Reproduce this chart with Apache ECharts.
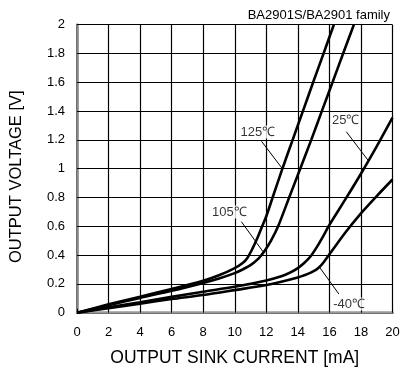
<!DOCTYPE html>
<html>
<head>
<meta charset="utf-8">
<style>
  html, body { margin: 0; padding: 0; background: #fff; }
  #chart { width: 416px; height: 372px; }
</style>
<script src="https://cdn.jsdelivr.net/npm/echarts@6/dist/echarts.min.js"></script>
</head>
<body>
<div id="chart"></div>
<script>
// Output voltage vs. output sink current, one curve per ambient temperature
const seriesNames = ['125℃', '105℃', '25℃', '-40℃'];

const current125 = [0, 2, 4, 6, 8, 9, 10, 10.5, 10.8, 11.1, 11.4, 11.7, 12.0, 12.4, 13.02, 13.67, 14.32, 14.97, 15.63, 16.28];
const voltage125 = [0, 0.058, 0.111, 0.165, 0.222, 0.26, 0.31, 0.345, 0.38, 0.44, 0.51, 0.59, 0.67, 0.8, 1.0, 1.2, 1.4, 1.6, 1.8, 2.0];

const current105 = [0, 2, 4, 6, 8, 9, 10, 10.5, 11.0, 11.5, 11.9, 12.3, 12.75, 13.45, 14.15, 14.85, 15.52, 16.2, 16.87, 17.55];
const voltage105 = [0, 0.052, 0.103, 0.152, 0.207, 0.238, 0.275, 0.3, 0.33, 0.375, 0.43, 0.5, 0.6, 0.8, 1.0, 1.2, 1.4, 1.6, 1.8, 2.0];

const current25 = [0, 2, 4, 6, 8, 10, 12, 13, 13.5, 14, 14.4, 14.8, 15.2, 15.6, 16, 17, 18, 19, 20];
const voltage25 = [0, 0.037, 0.072, 0.11, 0.146, 0.18, 0.224, 0.255, 0.278, 0.31, 0.345, 0.39, 0.455, 0.53, 0.61, 0.785, 0.965, 1.155, 1.355];

const currentM40 = [0, 2, 4, 6, 8, 10, 12, 14, 14.6, 15.0, 15.3, 15.6, 16, 17, 18, 19, 20];
const voltageM40 = [0, 0.032, 0.063, 0.095, 0.123, 0.157, 0.192, 0.245, 0.268, 0.288, 0.31, 0.345, 0.405, 0.555, 0.69, 0.81, 0.925];

// Axis ranges and tick steps
const xMin = 0, xMax = 20, xStep = 2;
const yMin = 0, yMax = 2, yStep = 0.2;

const chartTitle = 'BA2901S/BA2901 family';
const xAxisTitle = 'OUTPUT SINK CURRENT [mA]';
const yAxisTitle = 'OUTPUT VOLTAGE [V]';

// Temperature callouts: label anchor and leader line, in data units
const calloutLabelX = [11.46, 9.66, 17.03, 17.25];
const calloutLabelY = [1.255, 0.699, 1.338, 0.06];
const leaderFrom = [[11.7, 1.19], [10.42, 0.632], [17.07, 1.257], [15.38, 0.315]];
const leaderTo = [[13.02, 1.0], [11.79, 0.424], [18.44, 1.06], [16.6, 0.13]];

const zip = (xs, ys) => xs.map((x, i) => [x, ys[i]]);
const curves = [
  zip(current125, voltage125),
  zip(current105, voltage105),
  zip(current25, voltage25),
  zip(currentM40, voltageM40)
];

const FONT = 'Liberation Sans, Arial, Helvetica, sans-serif';

const curveSeries = curves.map((data, i) => ({
  name: seriesNames[i],
  type: 'line',
  data: data,
  smooth: 0.25,
  showSymbol: false,
  clip: true,
  lineStyle: { color: '#000', width: 2.6 },
  z: 5
}));

const leaderSeries = leaderFrom.map((p, i) => ({
  type: 'line',
  data: [p, leaderTo[i]],
  showSymbol: false,
  lineStyle: { color: '#000', width: 1 },
  z: 4
}));

const labelSeries = {
  type: 'scatter',
  symbolSize: 0,
  data: seriesNames.map((n, i) => ({ value: [calloutLabelX[i], calloutLabelY[i]], name: n })),
  label: {
    show: true,
    position: 'inside',
    formatter: p => p.name,
    color: '#000',
    fontFamily: FONT,
    fontSize: 13,
    backgroundColor: '#fff',
    padding: [0, 1]
  },
  z: 6
};

const chart = echarts.init(document.getElementById('chart'), null, { renderer: 'canvas' });
chart.setOption({
  animation: false,
  backgroundColor: '#fff',
  title: {
    text: chartTitle,
    right: 26,
    top: 9,
    padding: 0,
    textStyle: { fontFamily: FONT, fontSize: 13, fontWeight: 'normal', color: '#000' }
  },
  grid: { left: 77, right: 23.5, top: 24.7, bottom: 59.3, containLabel: false },
  xAxis: [{
    type: 'value',
    min: xMin, max: xMax, interval: xStep,
    name: xAxisTitle,
    nameLocation: 'middle',
    nameGap: 36,
    nameTextStyle: { fontFamily: FONT, fontSize: 17.5, color: '#000' },
    axisLine: { show: true, onZero: false, lineStyle: { color: '#000', width: 2 } },
    axisTick: { show: true, inside: true, length: 4, lineStyle: { color: '#000', width: 1 } },
    axisLabel: { margin: 13, fontFamily: FONT, fontSize: 13, color: '#000' },
    splitLine: { show: true, lineStyle: { color: '#000', width: 1.2 } }
  }, {
    type: 'value',
    position: 'top',
    min: xMin, max: xMax, interval: xStep,
    axisLine: { show: true, lineStyle: { color: '#999', width: 2.5 } },
    axisTick: { show: false },
    axisLabel: { show: false },
    splitLine: { show: false }
  }],
  yAxis: [{
    type: 'value',
    min: yMin, max: yMax, interval: yStep,
    name: yAxisTitle,
    nameLocation: 'middle',
    nameGap: 52,
    nameTextStyle: { fontFamily: FONT, fontSize: 16.5, color: '#000', padding: [0, 16, 0, 0] },
    axisLine: { show: true, onZero: false, lineStyle: { color: '#333', width: 2 } },
    axisTick: { show: true, inside: true, length: 4, lineStyle: { color: '#000', width: 1 } },
    axisLabel: { margin: 12, fontFamily: FONT, fontSize: 13, color: '#000' },
    splitLine: { show: true, lineStyle: { color: '#000', width: 1.2 } }
  }, {
    type: 'value',
    position: 'right',
    min: yMin, max: yMax, interval: yStep,
    axisLine: { show: true, lineStyle: { color: '#888', width: 2.5 } },
    axisTick: { show: false },
    axisLabel: { show: false },
    splitLine: { show: false }
  }],
  series: [...curveSeries, ...leaderSeries, labelSeries]
});
</script>
</body>
</html>
